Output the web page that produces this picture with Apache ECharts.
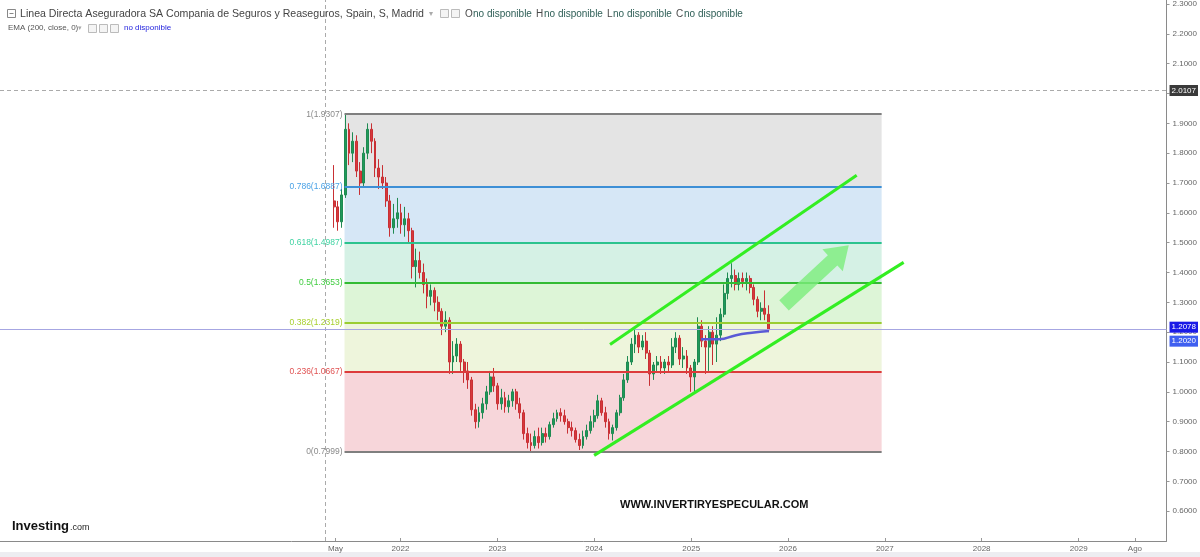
<!DOCTYPE html>
<html><head><meta charset="utf-8">
<script src="https://cdn.jsdelivr.net/npm/echarts@6/dist/echarts.min.js"></script>
<style>html,body{margin:0;padding:0;background:#fff}#c{width:1200px;height:557px}</style>
</head><body><div id="c"></div>
<script>
// ---------------- DATA ----------------
const candleStart = '2021-04-26';
const candleStepDays = 14;
// [open, close, low, high] biweekly
const candleOHLC = [
[1.64,1.62,1.55,1.76],[1.62,1.57,1.54,1.64],[1.57,1.66,1.55,1.68],[1.66,1.88,1.65,1.9307],
[1.88,1.80,1.76,1.90],[1.80,1.84,1.77,1.87],[1.84,1.74,1.72,1.86],[1.74,1.70,1.66,1.77],
[1.70,1.80,1.69,1.82],[1.80,1.88,1.78,1.90],[1.88,1.84,1.80,1.90],[1.84,1.75,1.72,1.85],
[1.75,1.72,1.68,1.78],[1.72,1.70,1.68,1.76],[1.70,1.64,1.62,1.72],[1.64,1.55,1.52,1.66],
[1.55,1.58,1.53,1.63],[1.58,1.60,1.55,1.65],[1.60,1.56,1.53,1.63],[1.56,1.58,1.52,1.62],
[1.58,1.54,1.50,1.60],[1.54,1.42,1.38,1.55],[1.42,1.44,1.35,1.48],[1.44,1.40,1.38,1.47],
[1.40,1.36,1.33,1.43],[1.36,1.32,1.28,1.38],[1.32,1.34,1.29,1.36],[1.34,1.30,1.27,1.35],
[1.30,1.27,1.24,1.32],[1.27,1.22,1.19,1.28],[1.22,1.24,1.20,1.27],[1.24,1.10,1.06,1.25],
[1.10,1.12,1.06,1.17],[1.12,1.16,1.10,1.18],[1.16,1.10,1.07,1.17],[1.10,1.07,1.03,1.11],
[1.07,1.04,1.01,1.10],[1.04,0.94,0.92,1.05],[0.94,0.90,0.877,0.96],[0.90,0.93,0.88,0.95],
[0.93,0.96,0.91,0.98],[0.96,1.00,0.94,1.02],[1.00,1.05,0.99,1.07],[1.05,1.02,1.00,1.08],
[1.02,0.96,0.94,1.03],[0.96,0.98,0.94,1.01],[0.98,0.95,0.93,1.00],[0.95,0.97,0.93,0.99],
[0.97,1.00,0.95,1.01],[1.00,0.96,0.94,1.01],[0.96,0.93,0.91,0.98],[0.93,0.86,0.84,0.94],
[0.86,0.83,0.81,0.88],[0.83,0.82,0.797,0.86],[0.82,0.85,0.81,0.87],[0.85,0.83,0.81,0.88],
[0.83,0.86,0.82,0.88],[0.86,0.85,0.83,0.88],[0.85,0.89,0.84,0.90],[0.89,0.91,0.88,0.93],
[0.91,0.93,0.90,0.94],[0.93,0.92,0.90,0.945],[0.92,0.90,0.89,0.94],[0.90,0.88,0.86,0.91],
[0.88,0.87,0.85,0.90],[0.87,0.84,0.83,0.88],[0.84,0.82,0.805,0.86],[0.82,0.85,0.81,0.87],
[0.85,0.87,0.84,0.89],[0.87,0.90,0.86,0.92],[0.90,0.92,0.88,0.94],[0.92,0.97,0.91,0.99],
[0.97,0.93,0.92,0.98],[0.93,0.90,0.88,0.95],[0.90,0.86,0.84,0.91],[0.86,0.88,0.837,0.89],
[0.88,0.93,0.87,0.94],[0.93,0.98,0.92,0.99],[0.98,1.04,0.97,1.06],[1.04,1.10,1.03,1.12],
[1.10,1.16,1.09,1.18],[1.16,1.19,1.13,1.21],[1.19,1.15,1.13,1.20],[1.15,1.17,1.14,1.19],
[1.17,1.13,1.11,1.20],[1.13,1.06,1.02,1.14],[1.06,1.09,1.04,1.10],[1.09,1.10,1.07,1.12],
[1.10,1.08,1.06,1.12],[1.08,1.10,1.06,1.11],[1.10,1.09,1.07,1.12],[1.09,1.15,1.08,1.18],
[1.15,1.18,1.13,1.20],[1.18,1.11,1.09,1.19],[1.11,1.12,1.08,1.15],[1.12,1.08,1.06,1.14],
[1.08,1.05,1.00,1.09],[1.05,1.10,1.00,1.11],[1.10,1.22,1.09,1.25],[1.22,1.17,1.15,1.24],
[1.17,1.15,1.06,1.19],[1.15,1.20,1.07,1.22],[1.20,1.16,1.09,1.22],[1.16,1.19,1.10,1.25],
[1.19,1.26,1.17,1.28],[1.26,1.33,1.25,1.36],[1.33,1.38,1.31,1.40],[1.38,1.39,1.35,1.431],
[1.39,1.36,1.34,1.41],[1.36,1.38,1.34,1.40],[1.38,1.37,1.35,1.40],[1.37,1.38,1.34,1.40],
[1.38,1.35,1.33,1.39],[1.35,1.31,1.29,1.36],[1.31,1.27,1.25,1.32],[1.27,1.28,1.24,1.30],
[1.28,1.26,1.24,1.34],[1.26,1.2078,1.20,1.29]
];
const emaDates = ['2025-02-07','2025-04-16','2025-06-19','2025-08-18','2025-10-21'];
const emaValues = [1.176,1.176,1.190,1.198,1.204];

const fibLevels = [1, 0.786, 0.618, 0.5, 0.382, 0.236, 0];
const fibPrices = [1.9307, 1.6887, 1.4987, 1.3653, 1.2319, 1.0667, 0.7999];
const fibStart = '2021-06-04', fibEnd = '2026-12-20';

const upperChannel = [['2024-03-01',1.159],['2026-09-17',1.726]];
const lowerChannel = [['2024-01-01',0.787],['2027-03-13',1.434]];
const trendArrow = [['2025-12-17',1.290],['2026-08-18',1.491]];

const lastPrice = 1.2078, emaLast = 1.2020;
const crossPrice = 2.0107, crossDate = '2021-03-25';

const xTickDates = ['2021-05-01','2022-01-01','2023-01-01','2024-01-01','2025-01-01','2026-01-01','2027-01-01','2028-01-01','2029-01-01','2029-08-01'];
const xTickLabels = ['May','2022','2023','2024','2025','2026','2027','2028','2029','Ago'];

// ---------------- STYLE / LAYOUT ----------------
const ts = s => Date.parse(s + 'T00:00:00Z');
const DAY = 86400000;
const fibLineColors = ['#7f7f7f','#3d8fd6','#2cc38e','#33bb33','#9acd32','#dd3b3b','#7f7f7f'];
const fibLabelColors = ['#8a8a8a','#4aa2e6','#3fd3a2','#3fcc3f','#a8d030','#e05252','#8a8a8a'];
const fibFillColors = ['#e4e4e4','#d6e7f6','#d5f1e5','#ddf5d7','#eef5dc','#f7d6da'];

const plotLeft = 0, plotRight = 1168;
const xAnchor = ts('2022-01-01'), xAnchorPx = 401, msPerPx = 365.25*DAY/97;
const xMin = xAnchor - (xAnchorPx - plotLeft)*msPerPx;
const xMax = xAnchor + (plotRight - xAnchorPx)*msPerPx;

const candleData = candleOHLC.map((d,i) => [ts(candleStart) + i*candleStepDays*DAY, d[0], d[1], d[2], d[3]]);
const xTickTs = xTickDates.map(ts);

const chart = echarts.init(document.getElementById('c'), null, {renderer:'canvas'});
const FONT = 'Liberation Sans';
const priceLabel = (txt, bg, dy) => ({show: true, position: 'end', distance: 3, formatter: txt, color: '#fff',
  backgroundColor: bg, padding: [2,2,1,2], fontSize: 8, fontFamily: FONT, offset: [0, dy]});

const option = {
  animation: false,
  backgroundColor: '#ffffff',
  textStyle: {fontFamily: FONT},
  grid: {left: plotLeft, right: 1200 - plotRight, top: 0, bottom: 16, containLabel: false},
  xAxis: {
    type: 'value', min: xMin, max: xMax, scale: true,
    axisLine: {show: true, onZero: false, lineStyle: {color: '#8a8a8a', width: 1}},
    axisTick: {show: true, customValues: xTickTs, length: 3, inside: true, lineStyle: {color: '#999'}},
    axisLabel: {
      customValues: xTickTs, fontSize: 8, color: '#666', margin: 4, fontFamily: FONT,
      formatter: v => { let best = 0; xTickTs.forEach((t,i)=>{ if (Math.abs(t-v) < Math.abs(xTickTs[best]-v)) best = i; }); return xTickLabels[best]; }
    },
    splitLine: {show: false}
  },
  yAxis: {
    type: 'value', position: 'right', min: 0.5, max: 2.3134, interval: 0.1,
    axisLine: {show: true, lineStyle: {color: '#8a8a8a', width: 1}},
    axisTick: {show: true, length: 3, lineStyle: {color: '#999'}},
    axisLabel: {fontSize: 8, color: '#666', margin: 6, showMinLabel: false, showMaxLabel: false, fontFamily: FONT,
      formatter: v => v.toFixed(4)},
    splitLine: {show: false}
  },
  series: [
    {
      type: 'line', data: [], z: 1, silent: true,
      markArea: {
        silent: true,
        data: fibFillColors.map((c,i) => [
          {coord: [ts(fibStart), fibPrices[i]], itemStyle: {color: c}},
          {coord: [ts(fibEnd), fibPrices[i+1]]}
        ])
      },
      markLine: {
        silent: true, symbol: 'none', animation: false,
        data: fibPrices.map((p,i) => [
          {coord: [ts(fibStart), p], lineStyle: {color: fibLineColors[i], width: 2, type: 'solid'},
           label: {show: true, position: 'start', distance: 2, formatter: fibLevels[i] + '(' + p.toFixed(4) + ')',
                   color: fibLabelColors[i], fontSize: 8.5, fontFamily: FONT}},
          {coord: [ts(fibEnd), p]}
        ])
      }
    },
    {
      type: 'line', data: [], z: 2, silent: true,
      markLine: {
        silent: true, symbol: 'none',
        data: [
          {xAxis: ts(crossDate), lineStyle: {color: '#aaa', type: [4,3], width: 1}, label: {show: false}},
          {yAxis: crossPrice, lineStyle: {color: '#aaa', type: [4,3], width: 1}, label: priceLabel(crossPrice.toFixed(4), '#3a3a3a', 0)},
          {yAxis: lastPrice, lineStyle: {color: '#a6a6e2', type: 'solid', width: 1}, label: priceLabel(lastPrice.toFixed(4), '#1a1ae6', -2)}
        ]
      }
    },
    {
      type: 'line', data: [], z: 2, silent: true,
      markLine: {
        silent: true, symbol: 'none',
        data: [
          {yAxis: emaLast, lineStyle: {color: 'rgba(0,0,0,0)', width: 0}, label: priceLabel(emaLast.toFixed(4), '#3f5ff0', 9)}
        ]
      }
    },
    {
      type: 'candlestick', z: 3, data: candleData, encode: {x: 0, y: [1,2,3,4]},
      barWidth: 2.4,
      itemStyle: {color: '#1f9a5a', color0: '#d8383c', borderColor: '#1f8a52', borderColor0: '#c83034', borderWidth: 1}
    },
    {
      type: 'line', z: 4, symbol: 'none', smooth: true,
      data: emaDates.map((d,i) => [ts(d), emaValues[i]]),
      lineStyle: {color: '#5a5ad6', width: 2.5}
    },
    {
      type: 'line', z: 5, symbol: 'none', data: upperChannel.map(p => [ts(p[0]), p[1]]),
      lineStyle: {color: '#33ee22', width: 3}
    },
    {
      type: 'line', z: 5, symbol: 'none', data: lowerChannel.map(p => [ts(p[0]), p[1]]),
      lineStyle: {color: '#33ee22', width: 3}
    },
    {
      type: 'custom', z: 6, silent: true,
      data: [[ts(trendArrow[0][0]), trendArrow[0][1], ts(trendArrow[1][0]), trendArrow[1][1]]],
      encode: {x: [0,2], y: [1,3]},
      renderItem: (params, api) => {
        const a = api.coord([api.value(0), api.value(1)]);
        const b = api.coord([api.value(2), api.value(3)]);
        const dx = b[0]-a[0], dy = b[1]-a[1], L = Math.hypot(dx,dy);
        const ux = dx/L, uy = dy/L, nx = -uy, ny = ux;
        const bw = 7, hw = 15, hl = 22;
        const hb = [b[0]-ux*hl, b[1]-uy*hl];
        const pts = [
          [a[0]+nx*bw, a[1]+ny*bw], [hb[0]+nx*bw, hb[1]+ny*bw], [hb[0]+nx*hw, hb[1]+ny*hw],
          b, [hb[0]-nx*hw, hb[1]-ny*hw], [hb[0]-nx*bw, hb[1]-ny*bw], [a[0]-nx*bw, a[1]-ny*bw]
        ];
        return {type: 'polygon', shape: {points: pts}, style: {fill: 'rgba(124,238,124,0.8)'}};
      }
    }
  ],
  graphic: [
    {type: 'rect', left: 0, top: 552, shape: {width: 1200, height: 5}, style: {fill: '#ededf1'}, z: 0},
    {type: 'rect', shape: {x: 7.5, y: 9.5, width: 8, height: 8}, style: {fill: '#fff', stroke: '#888', lineWidth: 1}},
    {type: 'line', shape: {x1: 9.5, y1: 13.5, x2: 13.5, y2: 13.5}, style: {stroke: '#888', lineWidth: 1}},
    {type: 'text', x: 20, y: 14, style: {text: 'Linea Directa Aseguradora SA Compania de Seguros y Reaseguros, Spain, S, Madrid',
      font: '10.6px "Liberation Sans"', fill: '#444', verticalAlign: 'middle'}},
    {type: 'text', x: 429, y: 14, style: {text: '▾', font: '8px "DejaVu Sans"', fill: '#aaa', verticalAlign: 'middle'}},
    {type: 'rect', shape: {x: 440.5, y: 9.5, width: 8, height: 8}, style: {fill: '#f4f4f4', stroke: '#bbb'}},
    {type: 'rect', shape: {x: 451.5, y: 9.5, width: 8, height: 8}, style: {fill: '#f4f4f4', stroke: '#bbb'}},
    {type: 'text', x: 465, y: 14, style: {text: 'O', font: '10px "Liberation Sans"', fill: '#4a4a4a', verticalAlign: 'middle'}},
    {type: 'text', x: 473, y: 14, style: {text: 'no disponible', font: '10px "Liberation Sans"', fill: '#2f5f57', verticalAlign: 'middle'}},
    {type: 'text', x: 536, y: 14, style: {text: 'H', font: '10px "Liberation Sans"', fill: '#4a4a4a', verticalAlign: 'middle'}},
    {type: 'text', x: 544, y: 14, style: {text: 'no disponible', font: '10px "Liberation Sans"', fill: '#2f5f57', verticalAlign: 'middle'}},
    {type: 'text', x: 607, y: 14, style: {text: 'L', font: '10px "Liberation Sans"', fill: '#4a4a4a', verticalAlign: 'middle'}},
    {type: 'text', x: 613, y: 14, style: {text: 'no disponible', font: '10px "Liberation Sans"', fill: '#2f5f57', verticalAlign: 'middle'}},
    {type: 'text', x: 676, y: 14, style: {text: 'C', font: '10px "Liberation Sans"', fill: '#4a4a4a', verticalAlign: 'middle'}},
    {type: 'text', x: 684, y: 14, style: {text: 'no disponible', font: '10px "Liberation Sans"', fill: '#2f5f57', verticalAlign: 'middle'}},
    {type: 'text', x: 8, y: 28, style: {text: 'EMA (200, close, 0)', font: '8px "Liberation Sans"', fill: '#555', verticalAlign: 'middle'}},
    {type: 'text', x: 78, y: 28, style: {text: '▾', font: '7px "DejaVu Sans"', fill: '#aaa', verticalAlign: 'middle'}},
    {type: 'rect', shape: {x: 88.5, y: 24.5, width: 8, height: 8}, style: {fill: '#f4f4f4', stroke: '#bbb'}},
    {type: 'rect', shape: {x: 99.5, y: 24.5, width: 8, height: 8}, style: {fill: '#f4f4f4', stroke: '#bbb'}},
    {type: 'rect', shape: {x: 110.5, y: 24.5, width: 8, height: 8}, style: {fill: '#f4f4f4', stroke: '#bbb'}},
    {type: 'text', x: 124, y: 28, style: {text: 'no disponible', font: '8px "Liberation Sans"', fill: '#2222dd', verticalAlign: 'middle'}},
    {type: 'text', x: 620, y: 505, style: {text: 'WWW.INVERTIRYESPECULAR.COM', font: 'bold 11px "Liberation Sans"', fill: '#111', verticalAlign: 'middle'}},
    {type: 'text', x: 12, y: 526, style: {text: 'Investing', font: 'bold 13px "Liberation Sans"', fill: '#111', verticalAlign: 'middle'}},
    {type: 'text', x: 70, y: 528, style: {text: '.com', font: '9px "Liberation Sans"', fill: '#222', verticalAlign: 'middle'}}
  ]
};
chart.setOption(option);
</script>
</body></html>
